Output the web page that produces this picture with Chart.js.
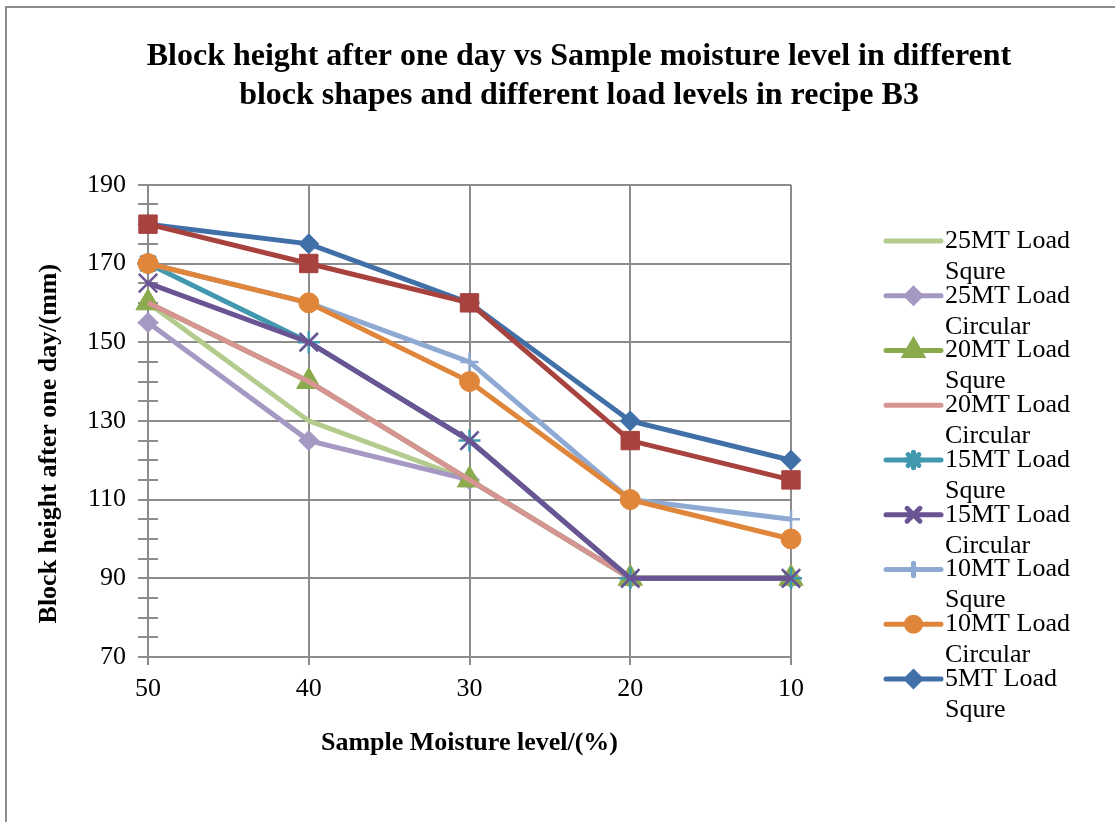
<!DOCTYPE html>
<html>
<head>
<meta charset="utf-8">
<script src="https://cdn.jsdelivr.net/npm/chart.js@4.4.1/dist/chart.umd.min.js"></script>
<style>
  html,body{margin:0;padding:0;background:#fff;overflow:hidden;}
  #frame{position:absolute;left:5px;top:6px;width:2000px;height:2000px;
         border-left:2px solid #8c8c8c;border-top:2px solid #8c8c8c;}
  #wrap{position:absolute;left:0;top:0;width:1158px;height:822px;}
</style>
</head>
<body>
<div id="frame"></div>
<div id="wrap"><canvas id="heightChart"></canvas></div>
<script>
/* ---------- data ---------- */
const moisture = ['50','40','30','20','10'];

const load25Squre    = [160,130,115, 90, 90];
const load25Circular = [155,125,115, 90, 90];
const load20Squre    = [160,140,115, 90, 90];
const load20Circular = [160,140,115, 90, 90];
const load15Squre    = [170,150,125, 90, 90];
const load15Circular = [165,150,125, 90, 90];
const load10Squre    = [170,160,145,110,105];
const load10Circular = [170,160,140,110,100];
const load5Squre     = [180,175,160,130,120];
const load5Circular  = [180,170,160,125,115];

const seriesNames = [
  ['25MT Load','Squre'],['25MT Load','Circular'],
  ['20MT Load','Squre'],['20MT Load','Circular'],
  ['15MT Load','Squre'],['15MT Load','Circular'],
  ['10MT Load','Squre'],['10MT Load','Circular'],
  ['5MT Load','Squre'], ['5MT Load','Circular']
];
const seriesData = [load25Squre,load25Circular,load20Squre,load20Circular,
                    load15Squre,load15Circular,load10Squre,load10Circular,
                    load5Squre,load5Circular];

/* ---------- styles ---------- */
const serif = "'Liberation Serif','Times New Roman',serif";
const gridGrey = '#8c8c8c';
const styles = [
  {color:'#b3cc8e', shape:false,      r:0},
  {color:'#a598c3', shape:'rectRot',  r:10},
  {color:'#8aaa4b', shape:'triangle', r:14},
  {color:'#d69592', shape:false,      r:0},
  {color:'#4198af', shape:'star',     r:11},
  {color:'#6a5493', shape:'crossRot', r:13},
  {color:'#8eaad3', shape:'cross',    r:9},
  {color:'#e0863a', shape:'circle',   r:10},
  {color:'#4170a8', shape:'rectRot',  r:10},
  {color:'#a8423f', shape:'rect',     r:13}
];
const strokeOnly = s => s==='star'||s==='crossRot'||s==='cross';

/* minor ticks crossing into the plot on the value axis */
const minorTicks = {
  id:'minorTicks',
  beforeDatasetsDraw(chart){
    const {ctx, chartArea} = chart, y = chart.scales.y;
    ctx.save();
    ctx.strokeStyle = gridGrey; ctx.lineWidth = 2;
    for(let v=75; v<190; v+=5){
      if((v-70)%20===0) continue;
      const py = Math.round(y.getPixelForValue(v));
      ctx.beginPath();
      ctx.moveTo(chartArea.left, py);
      ctx.lineTo(chartArea.left+10, py);
      ctx.stroke();
    }
    ctx.restore();
  }
};

/* Excel-style legend: line swatch with marker, two-line label */
const sideLegend = {
  id:'sideLegend',
  afterDraw(chart){
    const ctx = chart.ctx;
    const x0 = 886, x1 = 941, tx = 945, top = 241, step = 54.75;
    ctx.save();
    ctx.font = `26px ${serif}`;
    ctx.textBaseline = 'middle';
    seriesNames.forEach((name,i)=>{
      const y = top + i*step;
      if(y + 31 > 725) return;
      const st = styles[i];
      ctx.strokeStyle = st.color; ctx.lineWidth = 5; ctx.lineCap = 'round';
      ctx.beginPath(); ctx.moveTo(x0,y); ctx.lineTo(x1,y); ctx.stroke();
      if(st.shape){
        ctx.fillStyle = st.color; ctx.strokeStyle = st.color;
        Chart.helpers.drawPoint(ctx,{pointStyle:st.shape,radius:st.r*0.7,rotation:0,
                                     borderWidth:strokeOnly(st.shape)?2:1},(x0+x1)/2,y);
      }
      ctx.fillStyle = '#000';
      ctx.fillText(name[0], tx, y);
      ctx.fillText(name[1], tx, y+31);
    });
    ctx.restore();
  }
};

new Chart(document.getElementById('heightChart'),{
  type:'line',
  data:{
    labels:moisture,
    datasets:seriesData.map((d,i)=>({
      label:seriesNames[i].join(' '),
      data:d,
      order:10-i,
      borderColor:styles[i].color,
      backgroundColor:styles[i].color,
      borderWidth:5,
      tension:0,
      pointStyle:styles[i].shape || 'circle',
      pointRadius:styles[i].r,
      pointHoverRadius:styles[i].r,
      pointBackgroundColor:styles[i].color,
      pointBorderColor:styles[i].color,
      pointBorderWidth:strokeOnly(styles[i].shape)?2.5:1
    }))
  },
  options:{
    responsive:true, maintainAspectRatio:false, animation:false,
    layout:{padding:0},
    plugins:{
      legend:{display:false},
      tooltip:{enabled:false},
      title:{display:true,
             text:['Block height after one day vs Sample moisture level in different',
                   'block shapes and different load levels in recipe B3'],
             color:'#000', font:{family:serif,size:32,weight:'bold',lineHeight:1.2},
             padding:{top:38,bottom:70}}
    },
    scales:{
      x:{
        type:'category', offset:false,
        grid:{color:gridGrey,lineWidth:2,tickLength:8,tickColor:gridGrey},
        border:{color:gridGrey,width:2},
        ticks:{color:'#000',font:{family:serif,size:26},padding:9,maxRotation:0},
        title:{display:true,text:'Sample Moisture level/(%)',color:'#000',
               font:{family:serif,size:26,weight:'bold',lineHeight:1.2},
               padding:{top:0,bottom:63}},
        afterFit:s=>{ s.height = 822-657; }
      },
      y:{
        min:70, max:190,
        grid:{color:c=>((c.tick.value-70)%20===0?gridGrey:'rgba(0,0,0,0)'),
              lineWidth:2,tickLength:10,tickColor:gridGrey},
        border:{color:gridGrey,width:2},
        ticks:{stepSize:5,autoSkip:false,color:'#000',font:{family:serif,size:26},padding:12,
               callback:v=>((v-70)%20===0?v:'')},
        title:{display:true,text:'Block height after one day/(mm)       ',color:'#000',
               font:{family:serif,size:26,weight:'bold',lineHeight:1.2},
               padding:{top:34,bottom:0}},
        afterFit:s=>{ s.width = 148; }
      },
      // empty right-hand box that keeps room for the legend column
      legendSpace:{
        type:'linear', position:'right', display:true,
        grid:{display:false}, border:{display:false}, ticks:{display:false},
        afterFit:s=>{ s.width = 1158-791; }
      }
    }
  },
  plugins:[minorTicks,sideLegend]
});
</script>
</body>
</html>
